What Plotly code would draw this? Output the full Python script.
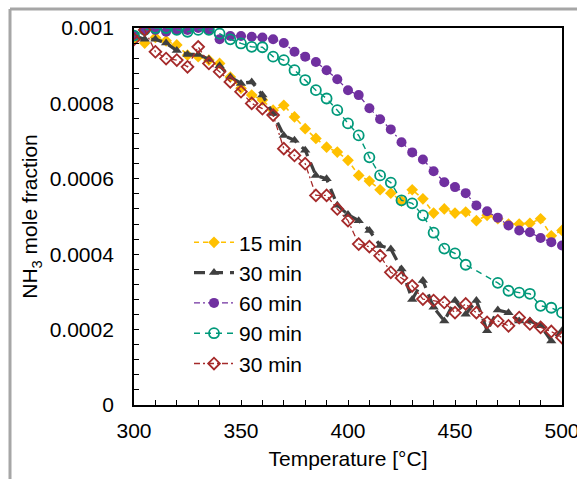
import plotly.graph_objects as go

# Temperature grid [°C]
temperature = list(range(300, 505, 5))

# NH3 mole fraction per holding time
nh3_15min = [0.00097, 0.00096, 0.000975, 0.000966, 0.000955, 0.000928, 0.000924, 0.000915, 0.000906, 0.00087,
             0.00084, 0.000822, 0.000809, 0.000782, 0.000795, 0.000764, 0.000733, 0.000707, 0.000684, 0.000671,
             0.000649, 0.000609, 0.000594, 0.000571, 0.000562, 0.000541, 0.000571, 0.000547, 0.000509, 0.00052,
             0.000509, 0.000512, 0.000489, 0.000503, 0.000494, 0.00048, 0.00048, 0.000482, 0.000494, 0.000449,
             0.000463]
nh3_30min = [0.00098, 0.00097, 0.00097, 0.00096, 0.00094, 0.00093, 0.00093, 0.000917, 0.0009, 0.00087,
             0.000853, 0.000857, 0.000822, 0.000773, 0.000715, 0.000702, 0.000676, 0.000609, 0.0006, 0.00053,
             0.000505, 0.000489, 0.000463, 0.000423, 0.000414, 0.000361, 0.00028, 0.00033, 0.000259, 0.000223,
             0.000277, 0.000241, 0.000277, 0.000197, 0.000252, 0.000245, 0.000223, 0.000223, 0.00021, 0.00017,
             0.000197]
nh3_60min = [0.00098, 0.000995, 0.000995, 0.00099, 0.000995, 0.000995, 0.001, 0.000995, 0.00097, 0.000979,
             0.000979, 0.000977, 0.000975, 0.00097, 0.00096, 0.000937, 0.000924, 0.00091, 0.000888, 0.000864,
             0.000835, 0.000822, 0.000787, 0.000758, 0.000731, 0.000697, 0.00067, 0.000651, 0.00062, 0.000591,
             0.000578, 0.000562, 0.000529, 0.000514, 0.000497, 0.000476, 0.000463, 0.000458, 0.000443, 0.000432,
             0.000423]
nh3_90min = [0.00098, 0.000995, 0.001, 0.001, 0.000995, 0.00099, 0.000995, 0.000995, 0.000985, 0.00097,
             0.000959, 0.00095, 0.000949, 0.000924, 0.000915, 0.000888, 0.000862, 0.000835, 0.000813, 0.000782,
             0.000747, 0.000715, 0.000657, 0.000609, 0.00059, 0.000543, 0.000535, 0.000503, 0.000457, 0.000415,
             0.000402, 0.000372, None, None, 0.000324, 0.000303, 0.000298, 0.000295, 0.000263, 0.000258,
             0.000245]
nh3_30min_b = [0.00097, 0.000995, 0.000937, 0.000919, 0.000915, 0.000897, 0.00095, 0.000906, 0.000884, 0.000857,
               0.000831, 0.0008, 0.000786, 0.000769, 0.00068, 0.000662, 0.00064, 0.000556, 0.000556, 0.00052,
               0.000489, 0.000427, 0.00042, 0.000396, 0.000352, 0.000337, 0.000316, 0.000281, 0.000277, 0.000272,
               0.000245, 0.000268, 0.000245, 0.000219, 0.000223, 0.00021, 0.000232, 0.000215, 0.000206, 0.000195,
               0.000179]

series_names = ["15 min", "30 min", "60 min", "90 min", "30 min"]

y_tick_values = [0, 0.0002, 0.0004, 0.0006, 0.0008, 0.001]
y_tick_labels = ["0", "0.0002", "0.0004", "0.0006", "0.0008", "0.001"]
x_tick_values = [300, 350, 400, 450, 500]

FONT = "Liberation Sans, Arial, sans-serif"
FS = 21

styles = [
    dict(line=dict(color="#FFC000", width=1.6, dash="5px,4px"),
         marker=dict(symbol="diamond", size=9, color="#FFC000")),
    dict(line=dict(color="#404040", width=3.2, dash="11px,7px"),
         marker=dict(symbol="triangle-up", size=9, color="#404040")),
    dict(line=dict(color="#7030A0", width=1.3, dash="6px,3px,2px,3px"),
         marker=dict(symbol="circle", size=10, color="#7030A0")),
    dict(line=dict(color="#00997A", width=1.4, dash="6px,5px"),
         marker=dict(symbol="circle-open", size=10, color="#00997A", line=dict(width=1.8))),
    dict(line=dict(color="#A52A2A", width=1.3, dash="6px,3px,2px,3px"),
         marker=dict(symbol="diamond-open", size=9, color="#A52A2A", line=dict(width=1.8))),
]

fig = go.Figure()
for name, values, style in zip(series_names,
                               [nh3_15min, nh3_30min, nh3_60min, nh3_90min, nh3_30min_b],
                               styles):
    fig.add_trace(go.Scatter(
        x=temperature, y=values, name=name, mode="lines+markers",
        connectgaps=True, **style))

axis_common = dict(
    showline=True, linecolor="black", linewidth=1.8, mirror=True,
    ticks="inside", ticklen=5, tickwidth=1.3, tickcolor="black",
    showgrid=False, zeroline=False, ticklabeloverflow="allow", automargin=False,
    tickfont=dict(family=FONT, size=FS, color="black"),
)

fig.update_layout(
    width=577, height=479,
    margin=dict(l=134, r=15, t=28, b=74),
    paper_bgcolor="white", plot_bgcolor="white",
    font=dict(family=FONT, size=FS, color="black"),
    showlegend=True,
    legend=dict(x=0.1285, y=0.485, xanchor="left", yanchor="top",
                bgcolor="rgba(0,0,0,0)", font=dict(family=FONT, size=FS, color="black"),
                itemwidth=40),
    xaxis=dict(range=[300, 500], tickvals=x_tick_values,
               minor=dict(dtick=10, ticks="inside", ticklen=5, tickwidth=1.3, tickcolor="black"),
               title=dict(text="Temperature [°C]", font=dict(family=FONT, size=FS), standoff=10),
               ticklabelstandoff=6,
               **axis_common),
    yaxis=dict(range=[0, 0.001], tickvals=y_tick_values, ticktext=y_tick_labels,
               minor=dict(dtick=0.00004, ticks="inside", ticklen=5, tickwidth=1.3, tickcolor="black"),
               title=dict(text="NH<sub>3</sub> mole fraction", font=dict(family=FONT, size=FS), standoff=6),
               ticklabelstandoff=14,
               **axis_common),
)

# light grey frame along the top and left edges of the figure
frame = dict(type="line", xref="paper", yref="paper", line=dict(color="#A6A6A6", width=3), layer="below")
fig.add_shape(x0=-124 / 428, x1=443 / 428, y0=(377 + 19) / 377, y1=(377 + 19) / 377, **frame)
fig.add_shape(x0=-124 / 428, x1=-124 / 428, y0=(377 + 19) / 377, y1=-74 / 377, **frame)

fig.write_html("out.html")
